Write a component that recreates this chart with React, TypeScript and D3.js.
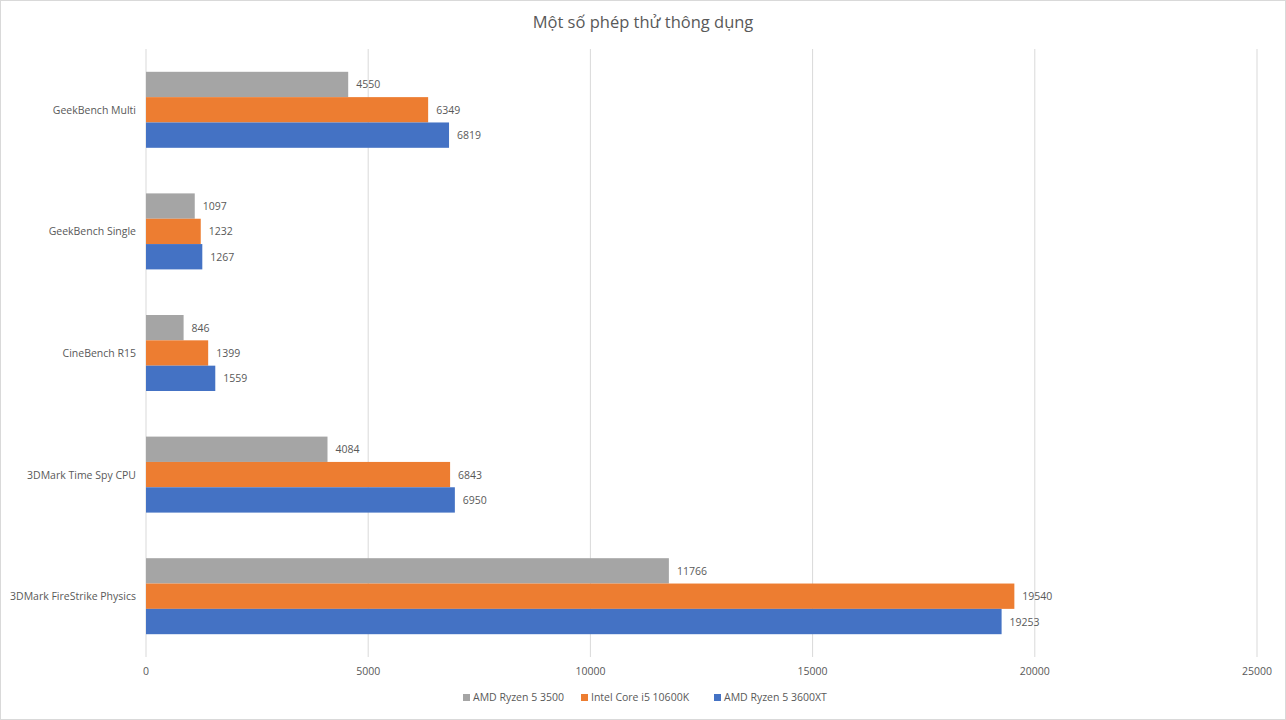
import React from 'react';
import * as d3 from 'd3';

const title = 'Một số phép thử thông dụng';
const categories = ['GeekBench Multi', 'GeekBench Single', 'CineBench R15', '3DMark Time Spy CPU', '3DMark FireStrike Physics'];
const seriesNames = ['AMD Ryzen 5 3500', 'Intel Core i5 10600K', 'AMD Ryzen 5 3600XT'];
const ryzen3500 = [4550, 1097, 846, 4084, 11766];
const core10600k = [6349, 1232, 1399, 6843, 19540];
const ryzen3600xt = [6819, 1267, 1559, 6950, 19253];
const xTicks = [0, 5000, 10000, 15000, 20000, 25000];
const colors = ['#A5A5A5', '#ED7D31', '#4472C4'];

const W = 1286;
const H = 720;
const font = '"Open Sans", sans-serif';
const textColor = '#595959';

const App = () => {
  const values = [ryzen3500, core10600k, ryzen3600xt];

  const x = d3.scaleLinear().domain([0, 25000]).range([146, 1257]);
  const y = d3.scaleBand().domain(categories).range([49, 657]).paddingInner(0.375).paddingOuter(0.1875);
  const ySub = d3.scaleBand().domain(seriesNames).range([0, y.bandwidth()]);

  // legend layout
  const legendX = [463, 581, 714];

  return (
    <svg width={W} height={H} style={{ position: 'absolute', left: 0, top: 0 }}>
      <rect x={0.5} y={0.5} width={W - 1} height={H - 1} fill="#fff" stroke="#D9D9D9" />
      <text x={643} y={28} textAnchor="middle" fontFamily={font} fontSize={16.5} fill={textColor}>{title}</text>

      {xTicks.map((t) => (
        <g key={t}>
          <line x1={x(t)} x2={x(t)} y1={49} y2={657} stroke="#D9D9D9" strokeWidth={1} />
          <text x={x(t)} y={675} textAnchor="middle" fontFamily={font} fontSize={10.5} fill={textColor}>{t}</text>
        </g>
      ))}

      {categories.map((c, i) => (
        <g key={c}>
          <text x={136} y={(y(c) ?? 0) + y.bandwidth() / 2 + 4} textAnchor="end" fontFamily={font} fontSize={10.5} fill={textColor}>{c}</text>
          {seriesNames.map((s, j) => {
            const v = values[j][i];
            const by = (y(c) ?? 0) + (ySub(s) ?? 0);
            return (
              <g key={s}>
                <rect x={x(0)} y={by} width={x(v) - x(0)} height={ySub.bandwidth()} fill={colors[j]} />
                <text x={x(v) + 8} y={by + ySub.bandwidth() / 2 + 4} fontFamily={font} fontSize={10.5} fill={textColor}>{v}</text>
              </g>
            );
          })}
        </g>
      ))}

      {seriesNames.map((s, j) => (
        <g key={s}>
          <rect x={legendX[j]} y={694} width={7} height={7} fill={colors[j]} />
          <text x={legendX[j] + 10} y={701} fontFamily={font} fontSize={10.5} fill={textColor}>{s}</text>
        </g>
      ))}
    </svg>
  );
};

export default App;
